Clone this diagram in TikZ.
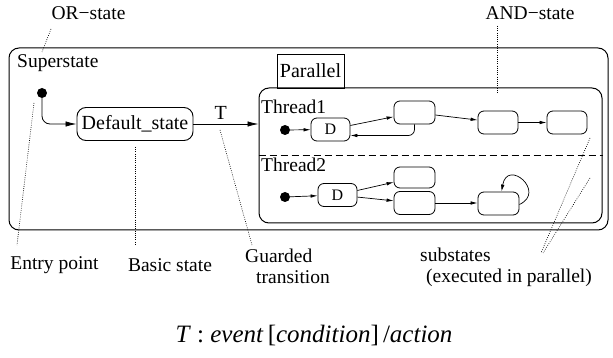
\documentclass[tikz,border=0pt]{standalone}
\usepackage{fontspec}
\setmainfont{Liberation Serif}
\usetikzlibrary{arrows.meta,positioning}

\tikzstyle{superbox} = [draw, line width=1pt, rounded corners=10pt, inner sep=0pt]
\tikzstyle{basicstate} = [draw, line width=0.9pt, rounded corners=9pt, inner sep=0pt,
    font=\fontsize{20}{24}\selectfont]
\tikzstyle{substate} = [draw, line width=0.8pt, rounded corners=6pt, inner sep=0pt,
    minimum width=41pt, minimum height=23pt, font=\fontsize{16}{18}\selectfont]
\tikzstyle{entrydot} = [circle, fill=black, inner sep=0pt, minimum size=10pt]
\tikzstyle{trans} = [-{Latex[length=11pt,width=5.5pt]}, line width=0.8pt]
\tikzstyle{subtrans} = [-{Latex[length=7pt,width=3.5pt]}, line width=0.7pt]
\tikzstyle{note} = [line width=0.6pt, dash pattern=on 0.8pt off 1.4pt]
\tikzstyle{notetext} = [inner sep=0pt, font=\fontsize{19.5}{21}\selectfont]

\begin{document}
\begin{tikzpicture}[x=1pt, y=-1pt]
    \useasboundingbox (0,0) rectangle (613,358);

    % OR-state with its default entry
    \node[superbox, minimum width=599pt, minimum height=182pt] (super) at (308.5,139) {};
    \node[notetext, anchor=west] (superlbl) at (17,63) {Superstate};
    \node[entrydot] (entry) at (42,93) {};
    \node[basicstate, minimum width=116pt, minimum height=33pt] (default) at (135,124) {Default\_state};
    \draw[trans, rounded corners=8pt] (entry) |- (default);

    % AND-state with two threads
    \node[draw, line width=0.9pt, minimum width=67pt, minimum height=34pt, inner sep=0pt,
        font=\fontsize{20}{24}\selectfont] (parlbl) at (310.5,71) {Parallel};
    \node[superbox, minimum width=343pt, minimum height=135pt] (par) at (430.5,155.5) {};
    \draw[trans] (default.east) -- node[pos=0.42, above=1pt, font=\fontsize{20}{24}\selectfont] (tlbl) {T} (default.east -| par.west);
    \draw[line width=0.8pt, dash pattern=on 7pt off 4pt] (par.west) -- (par.east);
    \node[notetext, anchor=west] (thread1) at (261,107) {Thread1};
    \node[notetext, anchor=west] (thread2) at (261,165) {Thread2};

    % thread 1
    \node[entrydot] (dot1) at (285,130) {};
    \node[substate, minimum width=39pt] (d1) at (330.5,129.5) {D};
    \node[substate] (a1) at (414.5,112.5) {};
    \node[substate, minimum width=40pt] (b1) at (498,122.5) {};
    \node[substate, minimum width=40pt] (c1) at (567,122.5) {};
    \draw[subtrans] (dot1) -- (d1);
    \draw[subtrans] (d1) -- (a1);
    \draw[subtrans, rounded corners=6pt] (a1.south) |- ([yshift=-6pt]d1.east);
    \draw[subtrans] (a1) -- (b1);
    \draw[subtrans] (b1) -- (c1);

    % thread 2
    \node[entrydot] (dot2) at (285,197) {};
    \node[substate, minimum width=39pt] (d2) at (337.5,195) {D};
    \node[substate, minimum height=21pt] (e2) at (414.5,177.5) {};
    \node[substate] (f2) at (414.5,203) {};
    \node[substate] (g2) at (498.5,203.5) {};
    \draw[subtrans] (dot2) -- (d2);
    \draw[subtrans] (d2) -- (e2);
    \draw[subtrans] (d2) -- (f2);
    \draw[subtrans] (f2) -- (f2 -| g2.west);
    % y axis points down here, so upward angles are negative
    \draw[subtrans] ([yshift=-1pt]g2.east) .. controls +(-25:30) and +(-80:34) .. ([xshift=3pt]g2.north);

    % annotations
    \node[notetext] (orlbl) at (88.5,13) {OR−state};
    \node[notetext] (andlbl) at (530,13) {AND−state};
    \node[notetext] (entrylbl) at (54.5,265) {Entry point};
    \node[notetext] (basiclbl) at (170,265) {Basic state};
    \node[notetext, align=left, anchor=north west] (guardlbl) at (245,249) {Guarded\\\hspace*{11pt}transition};
    \node[notetext, align=left, anchor=north west] (subslbl) at (420,248) {substates\\\hspace*{6pt}(executed in parallel)};

    \coordinate (orfoot) at (51,29);    \coordinate (ortip) at (42,52);
    \coordinate (andfoot) at (497,26);  \coordinate (andtip) at (497,93);
    \coordinate (entrytip) at (34,103); \coordinate (entryfoot) at (17,245);
    \coordinate (basictip) at (135,147); \coordinate (basicfoot) at (135,245);
    \coordinate (guardtip) at (220,130); \coordinate (guardfoot) at (252,245);
    \coordinate (substip1) at (590,138); \coordinate (substip2) at (590,178);
    \coordinate (subsfoot1) at (541,253); \coordinate (subsfoot2) at (543,253);
    \draw[note] (orfoot) -- (ortip);
    \draw[note] (andfoot) -- (andtip);
    \draw[note] (entrytip) -- (entryfoot);
    \draw[note] (basictip) -- (basicfoot);
    \draw[note] (guardtip) -- (guardfoot);
    \draw[note] (substip1) -- (subsfoot1);
    \draw[note] (substip2) -- (subsfoot2);

    % transition syntax
    \node[font=\fontsize{25}{28}\selectfont] (syntax) at (314,335)
        {\textit{T} : \textit{event}\,[\textit{condition}]\,/\textit{action}};
\end{tikzpicture}
\end{document}
